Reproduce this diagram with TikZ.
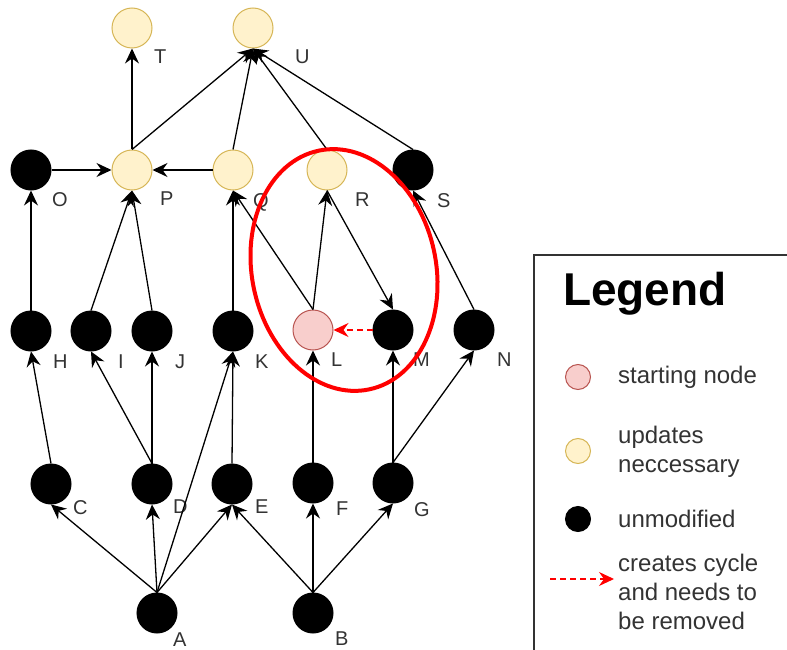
\documentclass[tikz,border=0pt]{standalone}
\usepackage{fontspec}
\setmainfont{Liberation Sans}
\usetikzlibrary{arrows.meta}
\definecolor{updfill}{HTML}{FFF2CC}
\definecolor{updline}{HTML}{D6B656}
\definecolor{startfill}{HTML}{F8CECC}
\definecolor{startline}{HTML}{B85450}
\definecolor{txtgray}{HTML}{333333}
\tikzset{
  vtx/.style={circle, minimum size=40pt, inner sep=0pt, line width=1pt},
  unmod/.style={vtx, fill=black, draw=black},
  upd/.style={vtx, fill=updfill, draw=updline},
  startnode/.style={vtx, fill=startfill, draw=startline},
  lbl/.style={anchor=north west, inner sep=0pt, text=txtgray, font=\fontsize{20}{24}\selectfont},
  arr/.style={-{Stealth[length=15pt,width=14pt,inset=5pt]}, line width=1.3pt},
  keytext/.style={anchor=west, inner sep=0pt, align=left, text=txtgray, font=\fontsize{24}{29}\selectfont},
}
\newcommand{\upedge}[2]{\draw[arr] (#1.north) -- (#2.south);}

\begin{document}
\begin{tikzpicture}[x=1pt, y=-1pt]
\useasboundingbox (0,0) rectangle (787,650);
% top row
\node[upd] at (132, 28)   (T) {};
\node[upd] at (253, 28)   (U) {};
% second row
\node[unmod]     at (31, 170)  (O) {};
\node[upd]       at (132, 170) (P) {};
\node[upd]       at (233, 170) (Q) {};
\node[upd]       at (327, 170) (R) {};
\node[unmod]     at (413, 170) (S) {};
% third row
\node[unmod]     at (31, 331)  (H) {};
\node[unmod]     at (91, 331)  (I) {};
\node[unmod]     at (152, 331) (J) {};
\node[unmod]     at (233, 331) (K) {};
\node[startnode] at (313, 330) (L) {};
\node[unmod]     at (393, 330) (M) {};
\node[unmod]     at (474, 330) (N) {};
% fourth row
\node[unmod] at (51, 484)  (C) {};
\node[unmod] at (152, 484) (D) {};
\node[unmod] at (232, 484) (E) {};
\node[unmod] at (313, 483) (F) {};
\node[unmod] at (393, 483) (G) {};
% roots
\node[unmod] at (157, 613) (A) {};
\node[unmod] at (313, 613) (B) {};

% names
\node[lbl] at (154, 50)  (lT) {T};
\node[lbl] at (295, 50)  (lU) {U};
\node[lbl] at (52, 192)  (lO) {O};
\node[lbl] at (160, 192) (lP) {P};
\node[lbl] at (253, 193) (lQ) {Q};
\node[lbl] at (355, 193) (lR) {R};
\node[lbl] at (437, 193) (lS) {S};
\node[lbl] at (53, 355)  (lH) {H};
\node[lbl] at (118, 355) (lI) {I};
\node[lbl] at (175, 355) (lJ) {J};
\node[lbl] at (255, 355) (lK) {K};
\node[lbl] at (331, 353) (lL) {L};
\node[lbl] at (413, 353) (lM) {M};
\node[lbl] at (497, 353) (lN) {N};
\node[lbl] at (73, 500)  (lC) {C};
\node[lbl] at (173, 500) (lD) {D};
\node[lbl] at (255, 500) (lE) {E};
\node[lbl] at (336, 502) (lF) {F};
\node[lbl] at (414, 502) (lG) {G};
\node[lbl] at (173, 633) (lA) {A};
\node[lbl] at (335, 632) (lB) {B};

% dependencies
\upedge{A}{C}
\upedge{A}{D}
\upedge{A}{E}
\upedge{A}{K}
\upedge{B}{E}
\upedge{B}{F}
\upedge{B}{G}
\upedge{C}{H}
\upedge{D}{I}
\upedge{D}{J}
\upedge{E}{K}
\upedge{F}{L}
\upedge{G}{M}
\upedge{G}{N}
\upedge{H}{O}
\upedge{I}{P}
\upedge{J}{P}
\upedge{K}{Q}
\upedge{L}{Q}
\upedge{L}{R}
\upedge{N}{S}
\upedge{P}{T}
\upedge{P}{U}
\upedge{Q}{U}
\upedge{R}{U}
\upedge{S}{U}
\draw[arr] (R.south) -- (M.north);
\draw[arr] (O) -- (P);
\draw[arr] (Q) -- (P);
\draw[arr, red, dash pattern=on 6pt off 4pt] (M) -- (L);

% cycle
\draw[red, line width=4pt, rotate around={12:(344,270)}] (344,270) ellipse [x radius=92, y radius=122];

% legend
\draw[black!80, line width=1.3pt] (534,650) |- (787,255);
\node[anchor=north west, inner sep=0pt, font=\bfseries\fontsize{46}{55}\selectfont] at (563,272) (title) {Legend};
\node[startnode, minimum size=25pt] at (578,377) (k1) {};
\node[keytext] at (618,377) (t1) {starting node};
\node[upd, minimum size=25pt] at (578,451) (k2) {};
\node[keytext] at (618,452) (t2) {updates\\neccessary};
\node[unmod, minimum size=25pt] at (578,519) (k3) {};
\node[keytext] at (618,519) (t3) {unmodified};
\coordinate (ks) at (550,579);
\coordinate (ke) at (614,579);
\draw[arr, red, dash pattern=on 6pt off 4pt] (ks) -- (ke);
\node[keytext] at (618,592) (t4) {creates cycle\\and needs to\\be removed};
\end{tikzpicture}
\end{document}
